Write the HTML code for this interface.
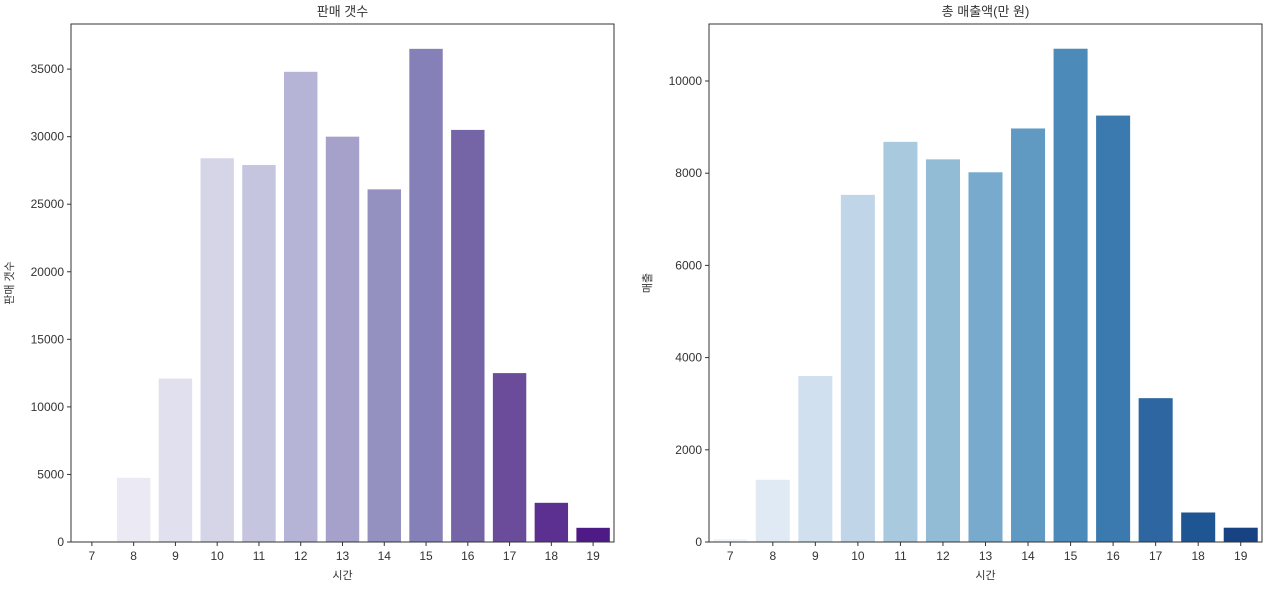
<!DOCTYPE html>
<html><head><meta charset="utf-8">
<style>
body{margin:0;background:#fff;width:1269px;height:588px;overflow:hidden}
svg text{font-family:"Liberation Sans","Noto Sans CJK KR",sans-serif;fill:#333}
</style></head>
<body>
<svg id="c" width="1269" height="588"></svg>
<script>
const categories=["7","8","9","10","11","12","13","14","15","16","17","18","19"];
const salesCount=[50,4750,12100,28400,27900,34800,30000,26100,36500,30500,12500,2900,1050];
const revenue=[60,1350,3600,7530,8680,8300,8020,8970,10700,9250,3120,640,310];
const leftTicks=[0,5000,10000,15000,20000,25000,30000,35000];
const rightTicks=[0,2000,4000,6000,8000,10000];
const purples=["#f8f7fb","#ebeaf4","#e0e0ee","#d6d5e8","#c5c5df","#b5b3d6","#a5a1ca","#9490bf","#8580b7","#7665a6","#6a4c9b","#5c3091","#4e1a85"];
const blues=["#eef4fb","#e0eaf5","#d1e0ef","#c0d6e8","#a9cade","#92bbd5","#77aacd","#609ac3","#4c8ab9","#3b7aae","#2d66a0","#1e5593","#174383"];
const NS="http://www.w3.org/2000/svg";
const svg=document.getElementById('c');
function mk(tag,attrs,parent){const e=document.createElementNS(NS,tag);for(const k in attrs)e.setAttribute(k,attrs[k]);(parent||svg).appendChild(e);return e;}
function panel(o){
  const g=mk('g',{});
  
  
  const bw=(o.x1-o.x0)/categories.length;
  const ys=v=>o.y0-(v/o.max)*(o.y0-o.yMaxPx);
  o.vals.forEach((v,i)=>{
    const r=mk('rect',{x:o.x0+bw*i+bw*0.1,y:ys(v),width:bw*0.8,height:o.y0-ys(v),fill:o.colors[i]},g);
    
    
  });
  o.ticks.forEach(t=>{
    const y=ys(t);
    mk('line',{x1:o.x0-4,x2:o.x0,y1:y,y2:y,stroke:'#333'},g);
    const tx=mk('text',{x:o.x0-7,y:y+4,'font-size':12,'text-anchor':'end'},g);
    tx.textContent=t;
    
    
  });
  categories.forEach((c,i)=>{
    const x=o.x0+bw*(i+0.5);
    mk('line',{x1:x,x2:x,y1:o.y0,y2:o.y0+4,stroke:'#333'},g);
    const tx=mk('text',{x:x,y:o.y0+18,'font-size':12,'text-anchor':'middle'},g);
    tx.textContent=c;
    
    
  });
  const f=mk('rect',{x:o.x0,y:o.top,width:o.x1-o.x0,height:o.y0-o.top,fill:'none',stroke:'#333','stroke-width':1},g);
  
  
  const ti=mk('text',{x:(o.x0+o.x1)/2,y:o.top-8,'font-size':13,'text-anchor':'middle'},g);
  ti.textContent=o.title;
  
  
  const xl=mk('text',{x:(o.x0+o.x1)/2,y:579,'font-size':11,'text-anchor':'middle'},g);
  xl.textContent='시간';
  
  
  const ym=(o.top+o.y0)/2;
  const yl=mk('text',{x:o.ylx,y:ym,'font-size':11,'text-anchor':'middle',transform:`rotate(-90 ${o.ylx} ${ym})`},g);
  yl.textContent=o.ylabel;
  
  
}
panel({name:'sales-count-chart',x0:71,x1:614,top:24,y0:542,yMaxPx:69.1,max:35000,vals:salesCount,colors:purples,ticks:leftTicks,title:'판매 갯수',ylabel:'판매 갯수',ylx:13});
panel({name:'revenue-chart',x0:709,x1:1262,top:24,y0:542,yMaxPx:81,max:10000,vals:revenue,colors:blues,ticks:rightTicks,title:'총 매출액(만 원)',ylabel:'매출',ylx:651});
</script>
</body></html>
